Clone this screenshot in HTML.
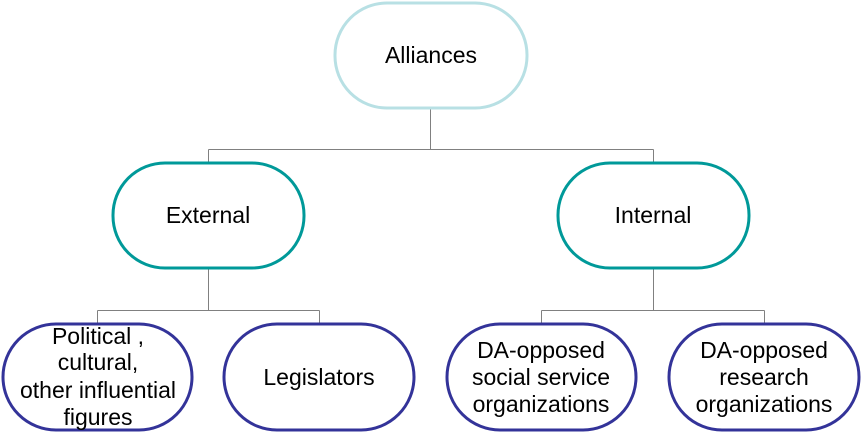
<!DOCTYPE html>
<html><head><meta charset="utf-8"><style>
html,body{margin:0;padding:0;background:#fff;width:862px;height:433px;overflow:hidden}
svg text{font-family:"Liberation Sans",sans-serif;font-size:23px;fill:#000;text-anchor:middle}
</style></head><body>
<svg width="862" height="433" viewBox="0 0 862 433" xmlns="http://www.w3.org/2000/svg">
<g stroke="#808080" stroke-width="1" fill="none">
<path d="M430.5 109V149.5M208.5 149.5H653.5M208.5 149.5V162M653.5 149.5V162"/>
<path d="M208.5 269V310.5M97.5 310.5H319.5M97.5 310.5V323M319.5 310.5V323"/>
<path d="M653.5 269V310.5M541.5 310.5H764.5M541.5 310.5V323M764.5 310.5V323"/>
</g>
<rect x="335" y="3" width="192" height="105" rx="52" fill="#fff" stroke="#b8e0e4" stroke-width="3"/>
<rect x="113" y="163" width="191" height="105" rx="52" fill="#fff" stroke="#009999" stroke-width="3"/>
<rect x="558" y="163" width="191" height="105" rx="52" fill="#fff" stroke="#009999" stroke-width="3"/>
<g fill="#fff" stroke="#333399" stroke-width="3">
<rect x="3" y="324" width="189" height="106" rx="53"/>
<rect x="224" y="324" width="190" height="106" rx="53"/>
<rect x="447" y="324" width="189" height="106" rx="53"/>
<rect x="669" y="324" width="190" height="106" rx="53"/>
</g>
<text x="431" y="63">Alliances</text>
<text x="208" y="223">External</text>
<text x="653" y="223">Internal</text>
<text x="98" y="344">Political ,</text>
<text x="98" y="370">cultural,</text>
<text x="98" y="398">other influential</text>
<text x="98" y="425">figures</text>
<text x="319" y="385">Legislators</text>
<text x="541" y="358">DA-opposed</text>
<text x="541" y="385">social service</text>
<text x="541" y="412">organizations</text>
<text x="764" y="358">DA-opposed</text>
<text x="764" y="385">research</text>
<text x="764" y="412">organizations</text>
</svg>
</body></html>
